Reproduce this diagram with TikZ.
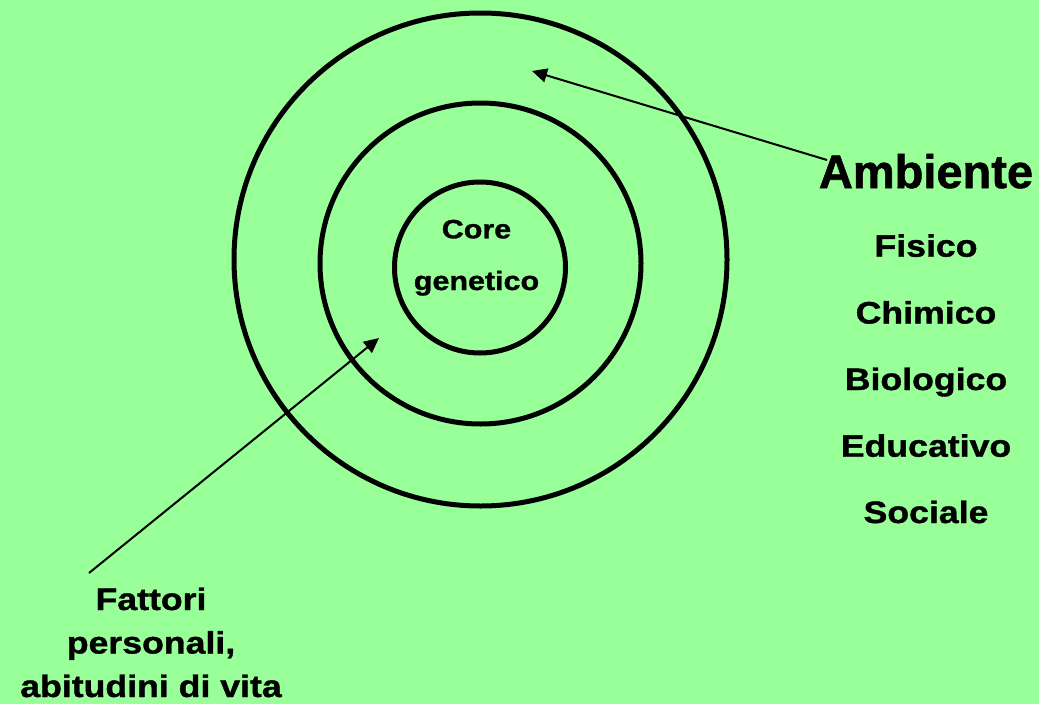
\documentclass[tikz,border=0pt]{standalone}
\usepackage{fontspec}
\setmainfont{Liberation Sans}[FakeBold=1.2]
\newfontfamily\wide[FakeStretch=1.15,FakeBold=1.2]{Liberation Sans}
\usetikzlibrary{arrows.meta}
\definecolor{bg}{RGB}{153,255,153}
\begin{document}
\begin{tikzpicture}[x=1pt,y=-1pt,
  ring/.style={draw=black,line width=5pt,circle,inner sep=0pt},
  arr/.style={draw=black,line width=2pt,-{Triangle[length=15pt,width=14pt]}},
  lbl/.style={anchor=base,inner sep=0pt,font=\wide\bfseries\fontsize{31}{31}\selectfont},
  core/.style={anchor=base,inner sep=0pt,font=\wide\bfseries\fontsize{26.5}{26.5}\selectfont},
  big/.style={anchor=base,inner sep=0pt,font=\bfseries\fontsize{47}{47}\selectfont}]
\fill[bg] (0,0) rectangle (1039,704);
\useasboundingbox (0,0) rectangle (1039,704);
\node[ring,minimum size=493pt] (outer) at (480.5,259.5) {};
\node[ring,minimum size=321pt] (middle) at (480.5,263.5) {};
\node[ring,minimum size=171pt] (inner) at (480,267.5) {};
\node[core] (c1) at (476.5,238.3) {Core};
\node[core] (c2) at (476.5,290) {genetico};
\node[big] (amb) at (926,188) {Ambiente};
\node[lbl] (l1) at (926,256.7) {Fisico};
\node[lbl] (l2) at (926,323.5) {Chimico};
\node[lbl] (l3) at (926,390) {Biologico};
\node[lbl] (l4) at (926,456.7) {Educativo};
\node[lbl] (l5) at (926,523) {Sociale};
\node[lbl] (f1) at (151,610) {Fattori};
\node[lbl] (f2) at (151,653.5) {personali,};
\node[lbl] (f3) at (151,697) {abitudini di vita};
\coordinate (envtail) at (827,160);
\coordinate (envtip) at (532,71);
\coordinate (perstail) at (89,573);
\coordinate (perstip) at (379,338);
\draw[arr] (envtail) -- (envtip);
\draw[arr] (perstail) -- (perstip);
\end{tikzpicture}
\end{document}
